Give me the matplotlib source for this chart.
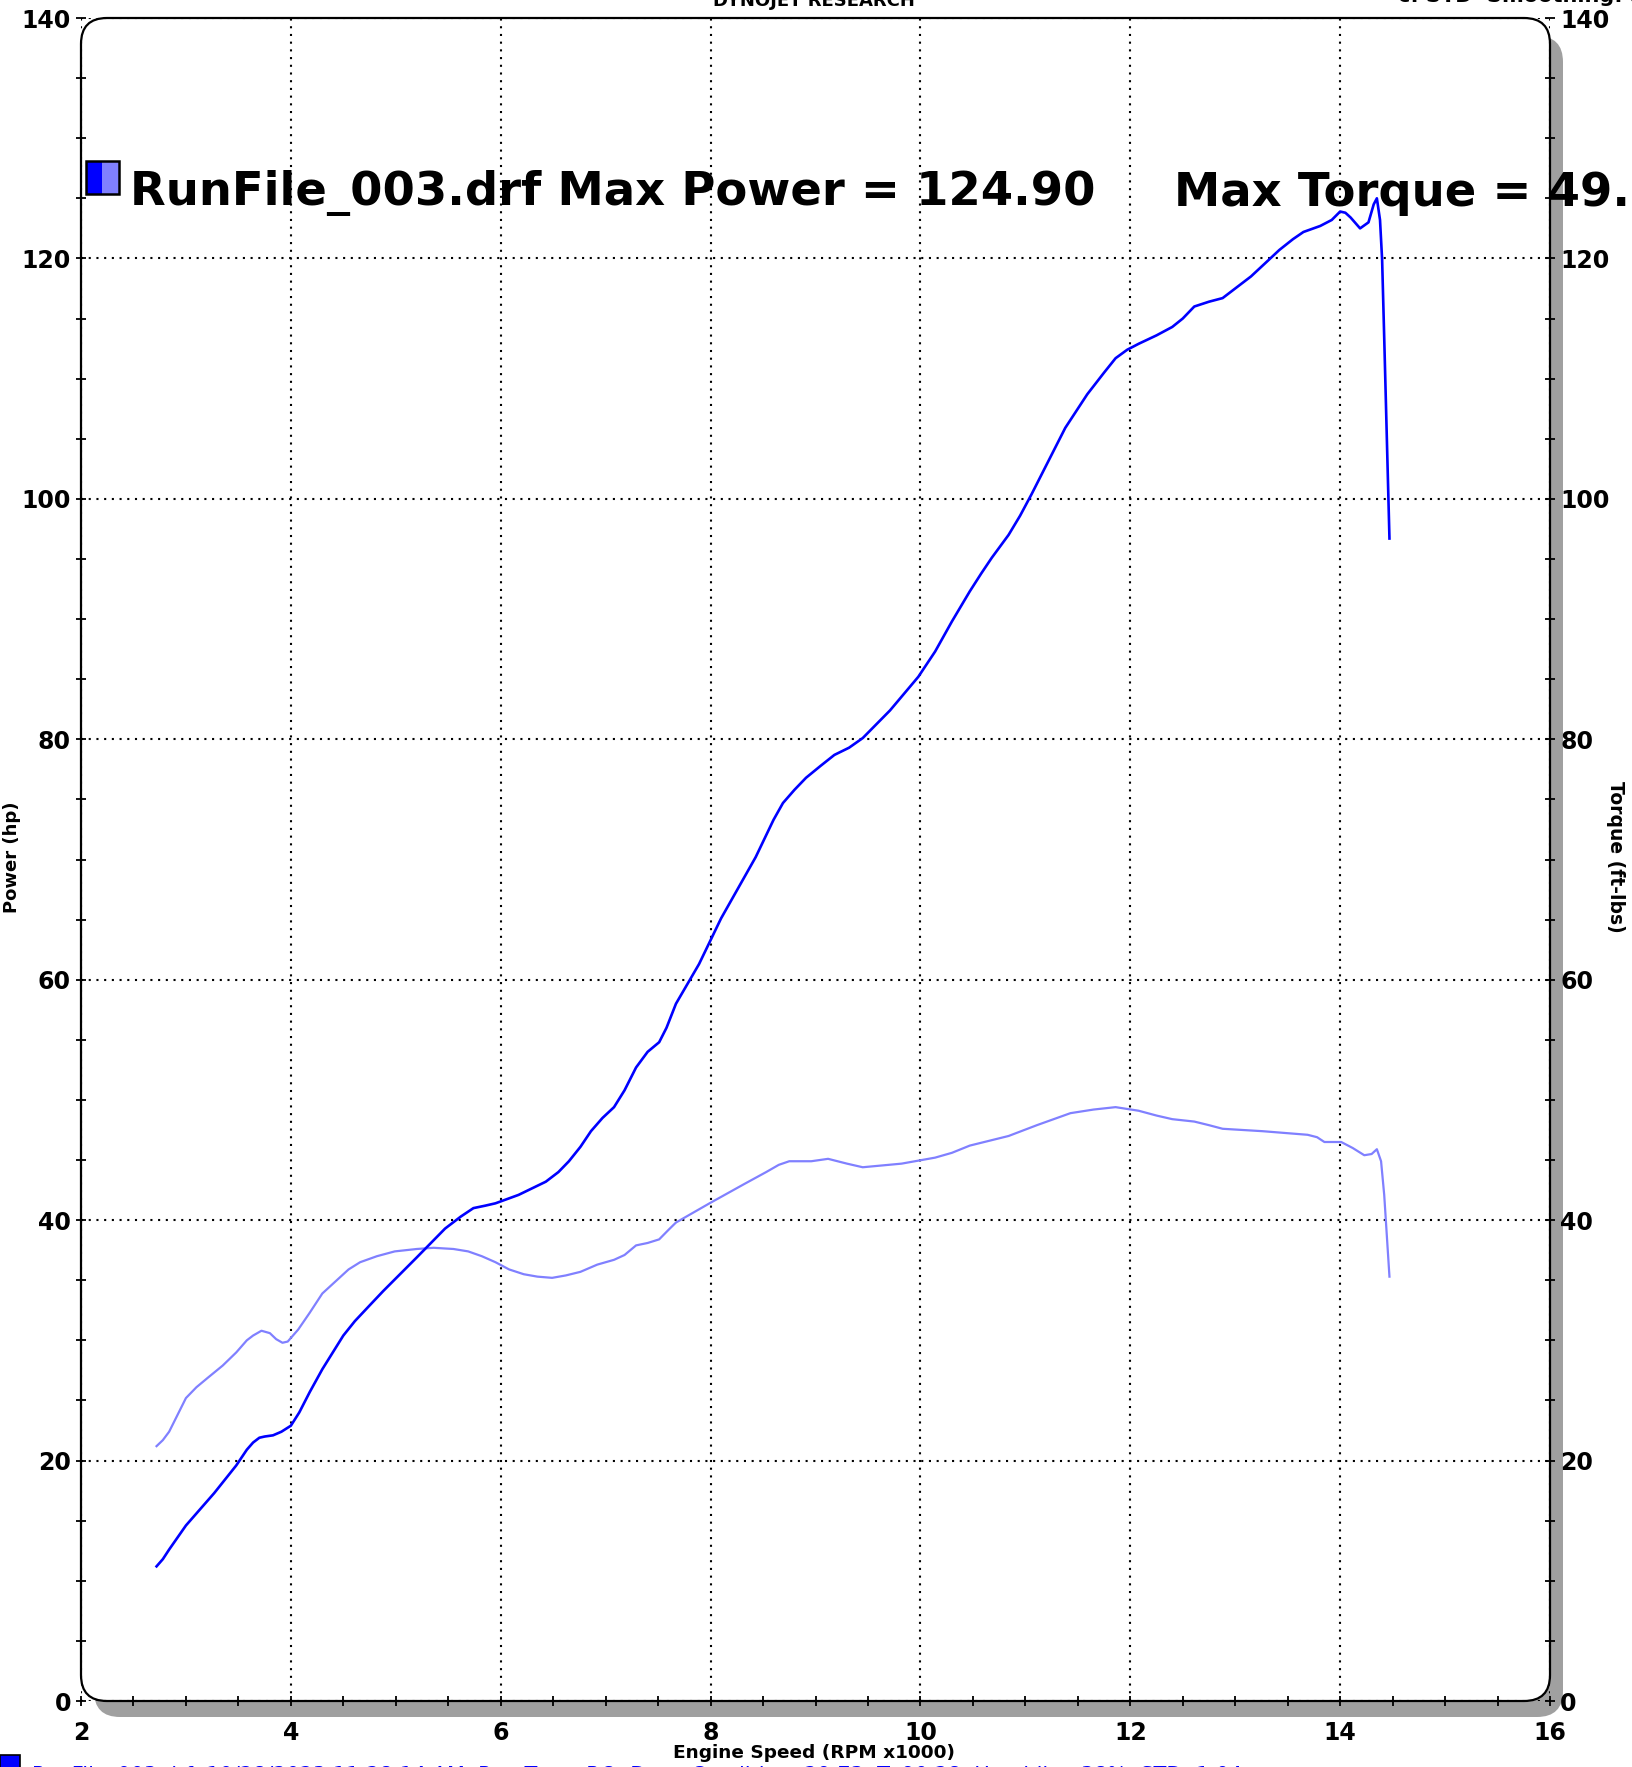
import numpy as np
import matplotlib.pyplot as plt
from matplotlib.patches import FancyBboxPatch, Rectangle
from matplotlib.transforms import IdentityTransform
from matplotlib.ticker import MultipleLocator

# power curve (hp) vs engine speed (rpm x1000)
rpm_hp = [2.72, 2.78, 2.84, 3.0, 3.15, 3.27, 3.48, 3.58, 3.64, 3.70, 3.75, 3.83, 3.91,
          4.0, 4.08, 4.18, 4.30, 4.40, 4.50, 4.61, 4.75, 4.88,
          5.2, 5.47, 5.62, 5.74, 5.85, 5.95, 6.17, 6.43, 6.55, 6.65, 6.76, 6.86, 6.97,
          7.08, 7.18, 7.29, 7.40, 7.51, 7.58, 7.67,
          7.89, 8.10, 8.43, 8.60, 8.69, 8.80, 8.91, 9.05, 9.18, 9.32, 9.45, 9.71, 9.98,
          10.14, 10.30, 10.47, 10.58, 10.68,
          10.84, 10.95, 11.06, 11.38, 11.59, 11.75, 11.86, 11.97, 12.08, 12.25, 12.40,
          12.50, 12.61, 12.75, 12.88, 13.15,
          13.31, 13.42, 13.55, 13.65, 13.81, 13.92, 14.0, 14.05, 14.1, 14.19, 14.27,
          14.32, 14.35, 14.38, 14.40, 14.42, 14.47]
hp = [11.2, 11.8, 12.6, 14.6, 16.1, 17.3, 19.6, 20.9, 21.5, 21.9, 22.0, 22.1, 22.4,
      22.9, 24.0, 25.7, 27.6, 29.0, 30.4, 31.6, 32.9, 34.1,
      36.9, 39.3, 40.3, 41.0, 41.2, 41.4, 42.1, 43.2, 44.0, 44.9, 46.1, 47.4, 48.5,
      49.4, 50.8, 52.7, 54.0, 54.8, 56.0, 58.0,
      61.3, 65.1, 70.2, 73.3, 74.7, 75.8, 76.8, 77.8, 78.7, 79.3, 80.1, 82.4, 85.2,
      87.3, 89.8, 92.3, 93.8, 95.1,
      97.0, 98.6, 100.4, 105.9, 108.7, 110.5, 111.7, 112.4, 112.9, 113.6, 114.3,
      115.0, 116.0, 116.4, 116.7, 118.5,
      119.8, 120.7, 121.6, 122.2, 122.7, 123.2, 123.9, 123.8, 123.4, 122.5, 123.0,
      124.5, 125.0, 123.2, 119.9, 113.4, 96.7]

# torque curve (ft-lbs)
rpm_tq = [2.72, 2.78, 2.84, 3.0, 3.10, 3.21, 3.35, 3.48, 3.58, 3.64, 3.72, 3.80, 3.86,
          3.92, 3.97, 4.07, 4.18, 4.30, 4.45, 4.55, 4.66, 4.82,
          4.99, 5.20, 5.36, 5.55, 5.69, 5.82, 5.95, 6.08, 6.22, 6.35, 6.49, 6.62, 6.76,
          6.92, 7.08, 7.18, 7.29, 7.40, 7.51, 7.60, 7.67,
          7.99, 8.32, 8.53, 8.65, 8.75, 8.96, 9.12, 9.30, 9.45, 9.82, 10.14, 10.30,
          10.47, 10.84,
          11.11, 11.43, 11.65, 11.86, 12.08, 12.25, 12.40, 12.61, 12.75, 12.88, 13.26,
          13.69, 13.78, 13.85, 14.01, 14.12, 14.23, 14.30, 14.35, 14.39, 14.42, 14.47]
tq = [21.2, 21.7, 22.4, 25.2, 26.1, 26.9, 27.9, 29.0, 30.0, 30.4, 30.8, 30.6, 30.1,
      29.8, 29.9, 30.9, 32.3, 33.9, 35.1, 35.9, 36.5, 37.0,
      37.4, 37.6, 37.7, 37.6, 37.4, 37.0, 36.5, 35.9, 35.5, 35.3, 35.2, 35.4, 35.7,
      36.3, 36.7, 37.1, 37.9, 38.1, 38.4, 39.2, 39.8,
      41.4, 43.0, 44.0, 44.6, 44.9, 44.9, 45.1, 44.7, 44.4, 44.7, 45.2, 45.6,
      46.2, 47.0,
      47.9, 48.9, 49.2, 49.4, 49.1, 48.7, 48.4, 48.2, 47.9, 47.6, 47.4,
      47.1, 46.9, 46.5, 46.5, 46.0, 45.4, 45.5, 45.9, 44.9, 42.1, 35.3]

x_ticks = [2, 4, 6, 8, 10, 12, 14, 16]
y_ticks = [0, 20, 40, 60, 80, 100, 120, 140]

W, H = 1632, 1767
fig = plt.figure(figsize=(W / 100, H / 100), dpi=100)
L, R, B, T = 81, 1550, 66, 1749
ax = fig.add_axes([L / W, B / H, (R - L) / W, (T - B) / H])
ax.patch.set_visible(False)
for s in ax.spines.values():
    s.set_visible(False)

# rounded frame with grey drop shadow
pix = IdentityTransform()
shadow = FancyBboxPatch((L + 13, B - 16), R - L, T - B - 2,
                        boxstyle="round,pad=0,rounding_size=26",
                        fc='#a0a0a0', ec='none', transform=pix, zorder=-3)
frame = FancyBboxPatch((L, B), R - L, T - B,
                       boxstyle="round,pad=0,rounding_size=26",
                       fc='white', ec='black', lw=1.6, transform=pix, zorder=-2)
fig.add_artist(shadow)
fig.add_artist(frame)

ax.plot(rpm_tq, tq, color='#8080ff', lw=1.6)
ax.plot(rpm_hp, hp, color='#0000ff', lw=1.9)

ax.set_xlim(2, 16)
ax.set_ylim(0, 140)
ax.set_xticks(x_ticks)
ax.set_yticks(y_ticks)
ax.xaxis.set_minor_locator(MultipleLocator(0.5))
ax.yaxis.set_minor_locator(MultipleLocator(5))
ax.grid(True, which='major', color='black', lw=1.5, linestyle=(0, (1, 2.7)))
ax.tick_params(which='both', direction='inout', length=6.5, width=1.3, color='black')
ax.tick_params(axis='x', which='major', pad=11, labelsize=17)
ax.tick_params(axis='y', which='major', pad=4, labelsize=17)
for lab in ax.get_xticklabels() + ax.get_yticklabels():
    lab.set_fontweight('bold')

ax2 = ax.twinx()
ax2.patch.set_visible(False)
for s in ax2.spines.values():
    s.set_visible(False)
ax2.set_ylim(0, 140)
ax2.set_yticks(y_ticks)
ax2.yaxis.set_minor_locator(MultipleLocator(5))
ax2.tick_params(which='both', direction='inout', length=6.5, width=1.3, color='black')
ax2.tick_params(axis='y', which='major', pad=4, labelsize=17)
for lab in ax2.get_yticklabels():
    lab.set_fontweight('bold')

# axis titles
fig.text(814 / W, 1 - 1753 / H, 'Engine Speed (RPM x1000)', ha='center', va='center',
         fontsize=13.3, fontweight='bold')
fig.text(12 / W, 1 - 857 / H, 'Power (hp)', rotation=90, ha='center', va='center',
         fontsize=13, fontweight='bold')
fig.text(1616 / W, 1 - 857 / H, 'Torque (ft-lbs)', rotation=-90, ha='center', va='center',
         fontsize=13.5, fontweight='bold')
fig.text(814 / W, 1 - 1 / H, 'DYNOJET RESEARCH', ha='center', va='center',
         fontsize=13, fontweight='bold')
fig.text(1398 / W, 1 + 4 / H, 'c: STD  Smoothing: 5', ha='left', va='center',
         fontsize=15, fontweight='bold')

# legend entry
fig.add_artist(Rectangle((86, H - 194), 16, 33, fc='#0000ff', ec='none', transform=pix))
fig.add_artist(Rectangle((102, H - 194), 17, 33, fc='#8080ff', ec='none', transform=pix))
fig.add_artist(Rectangle((86, H - 194), 33, 33, fc='none', ec='black', lw=1.8, transform=pix))
fig.text(130 / W, 1 - 193 / H, 'RunFile_003.drf Max Power = 124.90', ha='left',
         va='center', fontsize=33.5, fontweight='bold')
fig.text(1174 / W, 1 - 193 / H, 'Max Torque = 49.35', ha='left',
         va='center', fontsize=33.5, fontweight='bold')

# run info line (cut at bottom edge)
fig.add_artist(Rectangle((0, -8), 20, 20, fc='#0000ff', ec='black', lw=1.2, transform=pix))
fig.text(32 / W, -9 / H, 'RunFile_003.drf  10/28/2023 11:28:14 AM  Run Type: RO  Dyno Condition: 29.73  T: 90.28  Humidity: 38%  STD: 1.04',
         ha='left', va='center', fontsize=15, color='#0000ff')

plt.savefig('out.png', dpi=100)
